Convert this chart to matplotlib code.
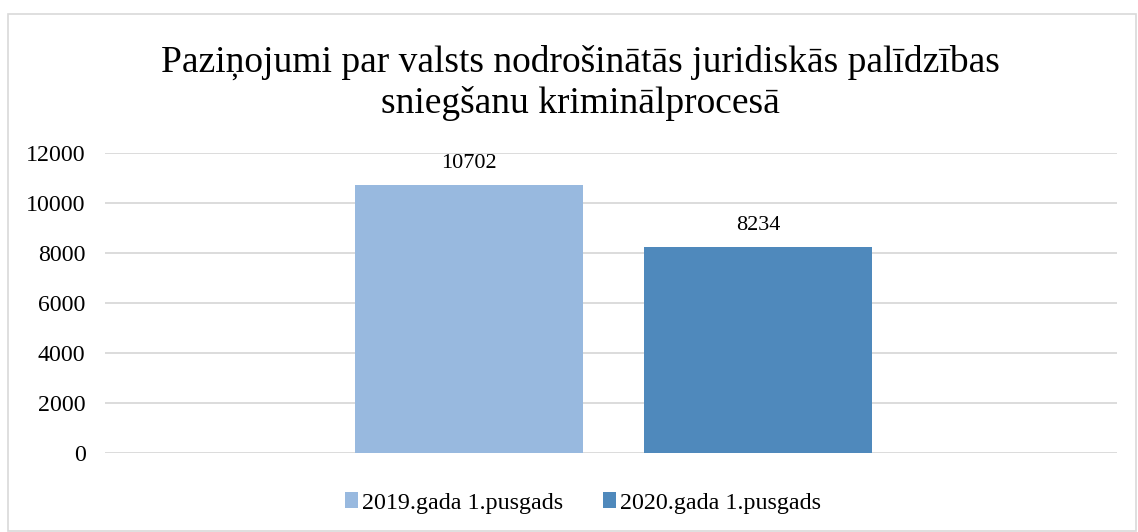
import matplotlib
matplotlib.use("Agg")
import matplotlib.pyplot as plt
from matplotlib.patches import Rectangle

title = "Paziņojumi par valsts nodrošinātās juridiskās palīdzības\nsniegšanu kriminālprocesā"
series = ["2019.gada 1.pusgads", "2020.gada 1.pusgads"]
values = [10702, 8234]
colors = ["#98B9DF", "#4F89BC"]
yticks = [0, 2000, 4000, 6000, 8000, 10000, 12000]

plt.rcParams['font.family'] = ['Liberation Serif', 'DejaVu Serif']

W, H = 1138, 532
fig = plt.figure(figsize=(W / 100, H / 100), dpi=100)
fig.patches.append(Rectangle((8 / W, 1 / H), (1136 - 8) / W, (518 - 1) / H,
                             transform=fig.transFigure, fill=False,
                             edgecolor="#D9D9D9", linewidth=1.2))

left, right, bottom, top = 105, 1117, 453, 153
ax = fig.add_axes([left / W, 1 - bottom / H, (right - left) / W, (bottom - top) / H])

offsets = [-0.1405, 0.1455]
width = 0.2255
bars = []
for off, v, c, s in zip(offsets, values, colors, series):
    b = ax.bar(off, v, width=width, color=c, label=s, zorder=3)
    bars.append(b)
    ax.text(off, v + 500, f"{v}", ha="center", va="bottom", fontsize=16, color="#000000")

ax.set_xlim(-0.5, 0.5)
ax.set_ylim(0, 12000)
ax.set_yticks(yticks)
ax.set_yticklabels([str(t) for t in yticks], fontsize=17.2)
ax.set_xticks([])
ax.grid(axis="y", color="#D9D9D9", linewidth=1.3, zorder=0)
for sp in ax.spines.values():
    sp.set_visible(False)
ax.tick_params(axis="y", length=0, pad=14)

fig.text(580 / W, 1 - 83 / H, title, ha="center", va="center", fontsize=27,
         linespacing=1.2, multialignment="center")

fig.legend(handles=[b[0] for b in bars], labels=series, loc="center",
           bbox_to_anchor=(583 / W, 1 - 503 / H), ncol=2, frameon=False, fontsize=17.3,
           handlelength=0.55, handleheight=0.6, handletextpad=0.18, columnspacing=1.62)

fig.savefig("out.png", dpi=100)
